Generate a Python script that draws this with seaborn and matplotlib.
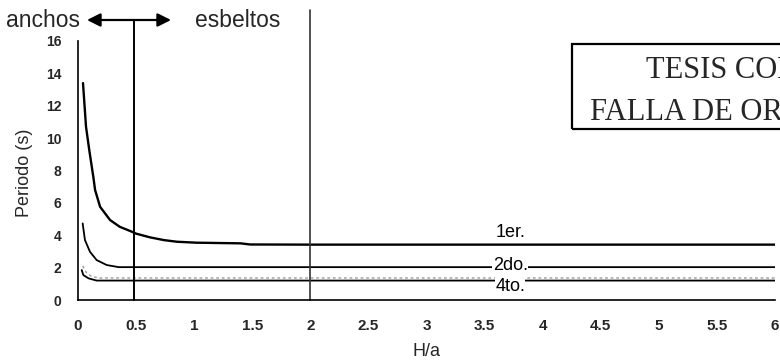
import matplotlib
matplotlib.use("Agg")
import matplotlib.pyplot as plt
from matplotlib.patches import Rectangle
import seaborn as sns
import pandas as pd

# ---- data ----
x_1er = [0.043, 0.069, 0.097, 0.132, 0.147, 0.19, 0.276, 0.36, 0.47, 0.5, 0.62, 0.74, 0.85, 1.02, 1.4, 1.48, 2.0, 3.0, 4.0, 5.0, 6.0]
y_1er = [13.4, 10.7, 9.26, 7.6, 6.8, 5.76, 4.94, 4.52, 4.2, 4.1, 3.87, 3.7, 3.6, 3.54, 3.5, 3.43, 3.42, 3.42, 3.42, 3.42, 3.42]

x_2do = [0.04, 0.06, 0.103, 0.16, 0.247, 0.35, 1.0, 2.0, 3.0, 4.0, 5.0, 6.0]
y_2do = [4.73, 3.7, 2.98, 2.47, 2.16, 2.03, 2.03, 2.03, 2.03, 2.03, 2.03, 2.03]

x_3er = [0.04, 0.075, 0.12, 0.19, 1.0, 2.0, 3.0, 4.0, 5.0, 6.0]
y_3er = [2.1, 1.66, 1.44, 1.36, 1.36, 1.36, 1.36, 1.36, 1.36, 1.36]

x_4to = [0.032, 0.046, 0.09, 0.16, 1.0, 2.0, 3.0, 4.0, 5.0, 6.0]
y_4to = [1.85, 1.54, 1.34, 1.2, 1.2, 1.2, 1.2, 1.2, 1.2, 1.2]

curve_labels = ["1er.", "2do.", "4to."]
label_x = [3.72, 3.72, 3.72]
label_y = [4.14, 2.16, 0.86]

x_ticks = [0, 0.5, 1, 1.5, 2, 2.5, 3, 3.5, 4, 4.5, 5, 5.5, 6]
x_tick_labels = ["0", "0.5", "1", "1.5", "2", "2.5", "3", "3.5", "4", "4.5", "5", "5.5", "6"]
y_ticks = [0, 2, 4, 6, 8, 10, 12, 14, 16]
y_tick_labels = ["0", "2", "4", "6", "8", "10", "12", "14", "16"]

limit_lines_x = [0.48, 2.0]

# ---- style ----
sns.set_style("white")
plt.rcParams['font.family'] = ['Liberation Sans', 'DejaVu Sans']

W, H = 780, 362
fig = plt.figure(figsize=(W / 100, H / 100), dpi=100)
ax = fig.add_axes([78 / W, 1 - 300 / H, (775 - 78) / W, (300 - 41) / H])

sns.lineplot(x=x_1er, y=y_1er, ax=ax, color="black", lw=1.7, sort=False, estimator=None)
sns.lineplot(x=x_2do, y=y_2do, ax=ax, color="black", lw=1.3, sort=False, estimator=None)
sns.lineplot(x=x_3er, y=y_3er, ax=ax, color="#9a9a9a", lw=1.0, ls=(0, (2, 2)), sort=False, estimator=None)
sns.lineplot(x=x_4to, y=y_4to, ax=ax, color="black", lw=1.3, sort=False, estimator=None)

ax.set_xlim(0, 6)
ax.set_ylim(0, 16)

# vertical reference lines extending above the axes
ppu = (300 - 41) / 16.0
ax.plot([limit_lines_x[0]] * 2, [0, (300 - 20) / ppu], color="black", lw=1.4, clip_on=False)
ax.plot([limit_lines_x[1]] * 2, [0, (300 - 10) / ppu], color="#333333", lw=1.2, clip_on=False)

for t, lx, ly in zip(curve_labels, label_x, label_y):
    ax.text(lx, ly, t, fontsize=13, ha="center", va="center", color="black",
            bbox=dict(facecolor="white", edgecolor="none", pad=0.3))

ax.set_xticks(x_ticks)
ax.set_xticklabels(x_tick_labels, fontsize=11, fontweight="bold")
ax.set_yticks(y_ticks)
ax.set_yticklabels(y_tick_labels, fontsize=10, fontweight="bold")
ax.tick_params(axis="both", direction="out", length=3, width=1, color="black")
ax.tick_params(axis="x", pad=11)
ax.tick_params(axis="y", pad=9)

for s in ["top", "right"]:
    ax.spines[s].set_visible(False)
for s in ["left", "bottom"]:
    ax.spines[s].set_linewidth(1.2)
    ax.spines[s].set_color("black")

ax.set_ylabel("Periodo (s)", fontsize=13)
ax.yaxis.set_label_coords((33 - 78) / (775 - 78), 0.49)
ax.set_xlabel("H/a", fontsize=13)
ax.xaxis.set_label_coords(0.5, (300 - 343) / (300 - 41))

# arrow with "anchos" / "esbeltos"
ya = 1 - 20 / H
ax.annotate("", xy=(171 / W, ya), xytext=(87 / W, ya), xycoords="figure fraction",
            textcoords="figure fraction",
            arrowprops=dict(arrowstyle="<|-|>", mutation_scale=20, color="black", lw=1.6,
                            shrinkA=0, shrinkB=0))
fig.text(80 / W, 1 - 27 / H, "anchos", fontsize=16.5, ha="right", va="baseline")
fig.text(195 / W, 1 - 27 / H, "esbeltos", fontsize=16.5, ha="left", va="baseline")

# stamp box (clipped by figure edge)
fig.add_artist(Rectangle((572 / W, 1 - 129 / H), 300 / W, (129 - 44) / H,
                         transform=fig.transFigure, fill=False, lw=1.6, color="black"))
fig.text(723 / W, 1 - 78 / H, "TESIS CON", fontsize=22, family="Liberation Serif",
         ha="center", va="baseline")
fig.text(723 / W, 1 - 120 / H, "FALLA DE ORIGEN", fontsize=22, family="Liberation Serif",
         ha="center", va="baseline")

fig.savefig("out.png", dpi=100, facecolor="white")
